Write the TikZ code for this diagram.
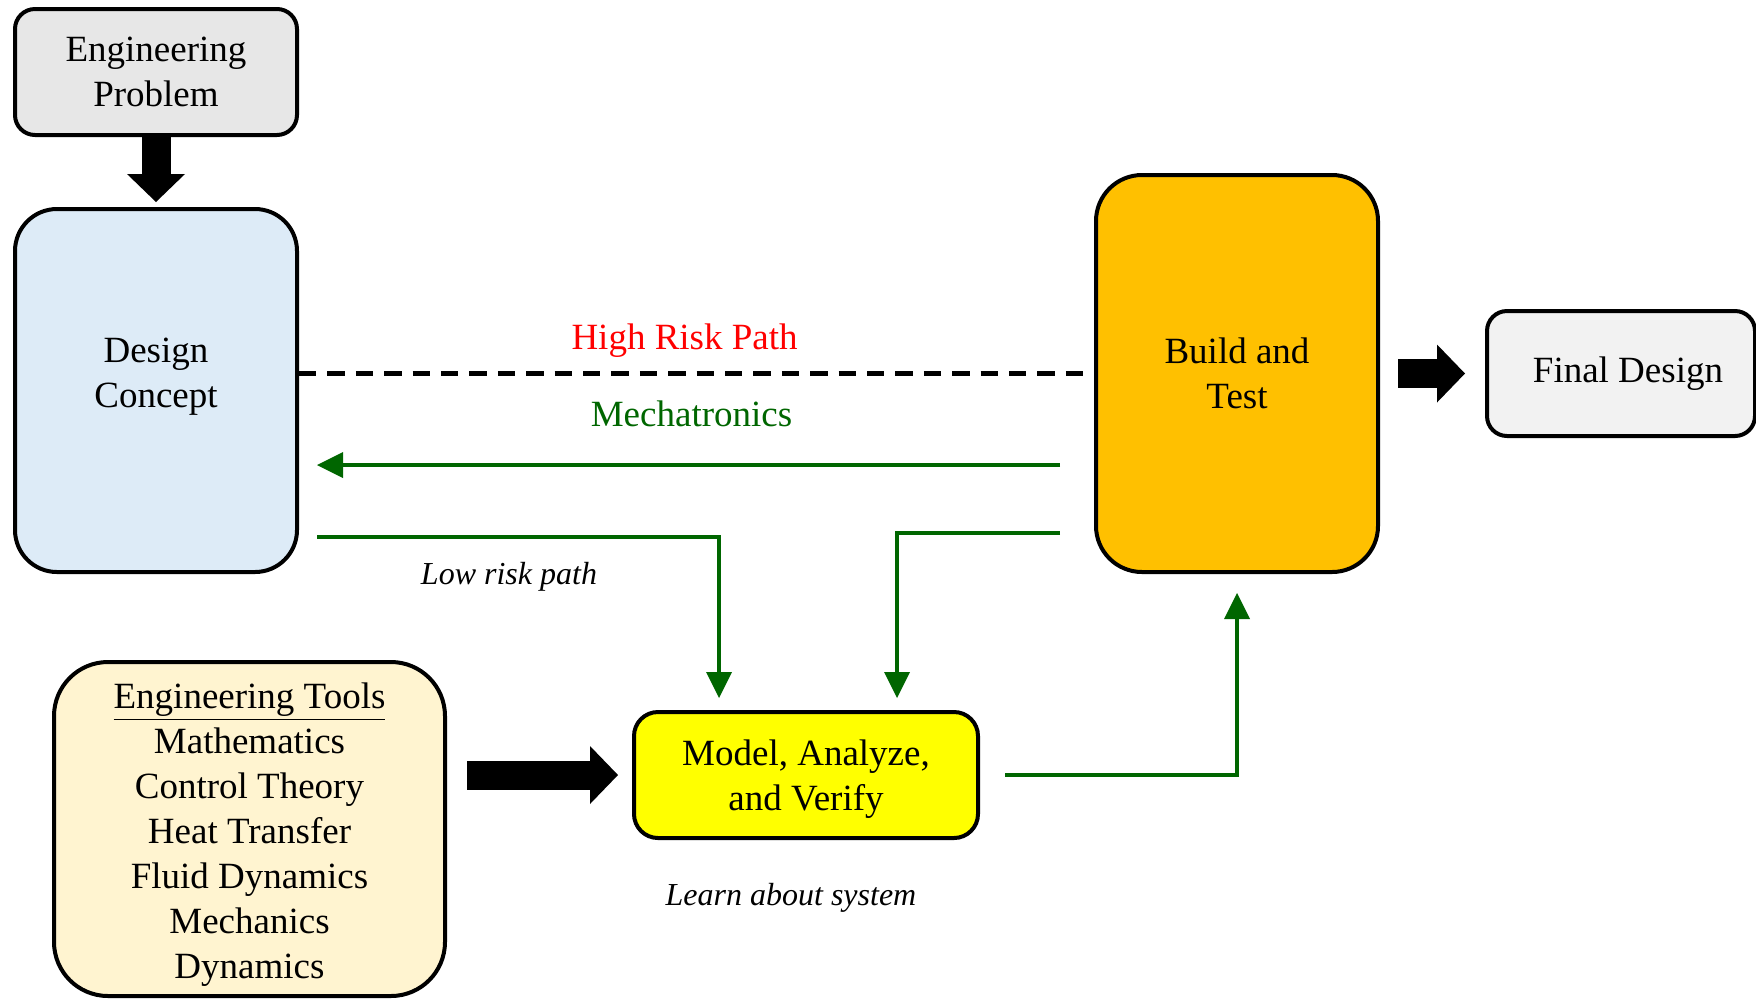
\documentclass[tikz,border=0pt]{standalone}
\usepackage{fontspec}
\setmainfont{Liberation Serif}
\usetikzlibrary{arrows.meta, positioning}
\definecolor{probgray}{RGB}{231, 231, 231}
\definecolor{conceptblue}{RGB}{221, 235, 247}
\definecolor{buildorange}{RGB}{255, 192, 0}
\definecolor{finalgray}{RGB}{242, 242, 242}
\definecolor{toolcream}{RGB}{255, 244, 208}
\definecolor{modelyellow}{RGB}{255, 255, 0}
\definecolor{flowgreen}{RGB}{0, 102, 0}
\newcommand{\boxfont}{\fontsize{18.5pt}{22.5pt}\selectfont}
\newcommand{\notefont}{\fontsize{16pt}{19.5pt}\selectfont\itshape}

\begin{document}
\begin{tikzpicture}[
      x=1pt, y=1pt,
      node distance=35pt,
      stage/.style={rectangle, draw=black, line width=2pt, align=center, font=\boxfont},
      bigarr/.style={line width=14.5pt, -{Triangle[length=14pt, width=29pt, line width=0pt]}},
      flow/.style={flowgreen, line width=2pt, -{Triangle[length=13pt, width=13pt, line width=0pt]}},
      risky/.style={line width=2.3pt, dash pattern=on 8.7pt off 5.5pt},
      note/.style={font=\notefont}
    ]
      \useasboundingbox (0,0) rectangle (878,-499);

      % Stages
      \node[stage, fill=probgray, rounded corners=10pt, minimum width=141pt, minimum height=63pt] (problem) at (78,-36) {Engineering\\Problem};
      \node[stage, fill=conceptblue, rounded corners=21pt, minimum width=141pt, minimum height=181.5pt, text depth=18pt, below=of problem] (concept) {Design\\Concept};
      \node[stage, fill=buildorange, rounded corners=23pt, minimum width=141pt, minimum height=198.5pt] (build) at (618.5,-186.75) {Build and\\Test};
      \node[stage, fill=finalgray, rounded corners=10pt, minimum width=134pt, minimum height=62.5pt, right=52.5pt of build] (final) {\hspace*{7pt}Final Design};

      % Tools and model
      \node[stage, fill=toolcream, rounded corners=27pt, minimum width=195.5pt, minimum height=167pt] (tools) at (124.75,-414.5)
        {\rule{0pt}{18.6pt}\underline{Engineering Tools}\\Mathematics\\Control Theory\\Heat Transfer\\Fluid Dynamics\\Mechanics\\Dynamics};
      \node[stage, fill=modelyellow, rounded corners=12pt, minimum width=172pt, minimum height=63pt, right=92.5pt of tools, yshift=27pt] (model)
        {\rule{0pt}{16.6pt}Model, Analyze,\\and Verify};
      \node[note, below=18.3pt of model, xshift=-7.5pt] (learn) {Learn about system};

      % Block arrows
      \draw[bigarr, shorten >=2.5pt] (problem) -- (concept);
      \draw[bigarr, shorten <=9pt, shorten >=10pt] (build) -- (final);
      \draw[bigarr, shorten <=10pt, shorten >=7pt] (tools.east |- model) -- (model);

      % High risk path
      \draw[risky] (concept.east |- build.west) -- (build.west)
        node[pos=0.485, above=3.5pt, text=red, font=\boxfont] {High Risk Path};

      % Green paths
      \draw[flow, shorten <=17pt, shorten >=9pt] ([yshift=-45.75pt]build.west) -- ([yshift=-45.75pt]build.west -| concept.east)
        node[midway, above=14.8pt, xshift=-2.5pt, font=\boxfont] {Mechatronics};
      \draw[flow, shorten <=9pt, shorten >=6pt] ([yshift=-73.25pt]concept.east) -| ([xshift=-43.5pt]model.north)
        node[pos=0.25, below=8.5pt, note, text=black] {Low risk path};
      \draw[flow, shorten <=17pt, shorten >=6pt] ([yshift=-79.75pt]build.west) -| ([xshift=45.5pt]model.north);
      \draw[flow, shorten <=12.5pt, shorten >=9.5pt] (model.east) -| (build.south);
    \end{tikzpicture}
\end{document}
